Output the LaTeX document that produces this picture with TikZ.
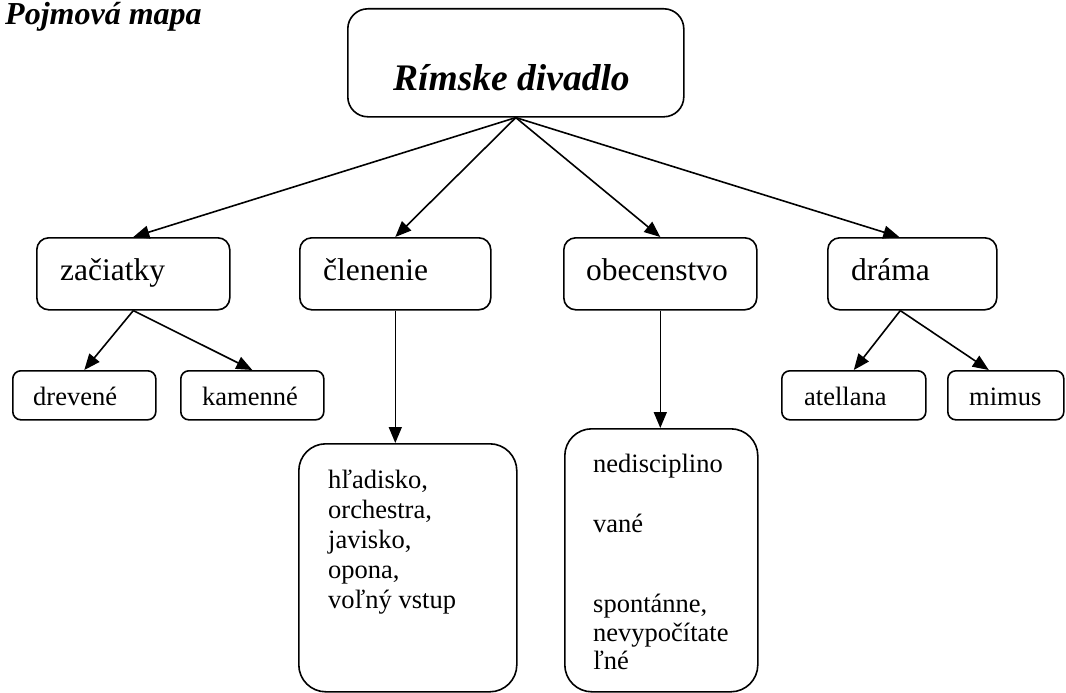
\documentclass[tikz,border=0pt]{standalone}
\usepackage{fontspec}
\setmainfont{Liberation Serif}
\usetikzlibrary{arrows.meta,calc}
\begin{document}
\begin{tikzpicture}[x=1pt,y=-1pt,
  box/.style={draw, line width=1.6pt, rounded corners=#1, inner sep=0pt, anchor=north west},
  box/.default=10pt,
  arr/.style={-{Triangle[length=16pt,width=13pt]}, line width=1.6pt},
  txtS/.style={anchor=base west, inner sep=0pt, font=\fontsize{26.5}{30}\selectfont},
  txtM/.style={anchor=base west, inner sep=0pt, font=\fontsize{31.5}{36}\selectfont},
  txtB/.style={anchor=base west, inner sep=0pt, font=\fontsize{#1}{#1}\selectfont\bfseries\itshape}]
\useasboundingbox (0,0) rectangle (1066,693);
\fill[white] (0,0) rectangle (1066,693);

% title
\node[txtB=32] (title) at (5,25) {Pojmová mapa};

% main box
\node[box=20pt, minimum width=336pt, minimum height=108pt] (main) at (347,8) {};
\node[txtB=37.5] (maintxt) at (393,90) {Rímske divadlo};

% level 2
\node[box=12pt, minimum width=193pt, minimum height=72pt] (zac) at (36,237) {};
\node[box=12pt, minimum width=191pt, minimum height=72pt] (clen) at (299,237) {};
\node[box=12pt, minimum width=193pt, minimum height=72pt] (obec) at (563,237) {};
\node[box=12pt, minimum width=169pt, minimum height=72pt] (drama) at (827,237) {};
\node[txtM] (tzac) at (60,280) {začiatky};
\node[txtM] (tclen) at (323,280) {členenie};
\node[txtM] (tobec) at (586,280) {obecenstvo};
\node[txtM] (tdrama) at (851,280) {dráma};

% level 3
\node[box=8pt, minimum width=143pt, minimum height=49pt] (drev) at (12,370) {};
\node[box=8pt, minimum width=143pt, minimum height=49pt] (kam) at (180,370) {};
\node[box=8pt, minimum width=144pt, minimum height=49pt] (atel) at (781,370) {};
\node[box=8pt, minimum width=116pt, minimum height=49pt] (mim) at (947,370) {};
\node[txtS] (tdrev) at (33,405) {drevené};
\node[txtS] (tkam) at (202,405) {kamenné};
\node[txtS] (tatel) at (804,405) {atellana};
\node[txtS] (tmim) at (969,405) {mimus};

% big boxes
\node[box=27pt, minimum width=218pt, minimum height=248pt] (hlad) at (298,443) {};
\node[box=27pt, minimum width=193pt, minimum height=263pt] (nedis) at (564,428) {};
\foreach \t [count=\i] in {{hľadisko,},{orchestra,},{javisko,},{opona,},{voľný vstup}}
  \node[txtS] (hl\i) at (328,458+30*\i) {\t};
\node[txtS] (n1) at (593,472) {nedisciplino};
\node[txtS] (n2) at (593,532) {vané};
\node[txtS] (n3) at (593,612) {spontánne,};
\node[txtS] (n4) at (593,641) {nevypočítate};
\node[txtS] (n5) at (593,669) {ľné};

% connectors
\draw[arr] (main.south) -- (zac.north);
\draw[arr] (main.south) -- (clen.north);
\draw[arr] (main.south) -- (obec.north);
\draw[arr] (main.south) -- ([xshift=-13pt]drama.north);
\draw[arr] (zac.south) -- (drev.north);
\draw[arr] (zac.south) -- (kam.north);
\draw[arr] (clen.south) -- (clen.south |- hlad.north);
\draw[arr] (obec.south) -- (obec.south |- nedis.north);
\draw[arr] ([xshift=-12pt]drama.south) -- (atel.north);
\draw[arr] ([xshift=-12pt]drama.south) -- ([xshift=-17pt]mim.north);
\end{tikzpicture}
\end{document}
